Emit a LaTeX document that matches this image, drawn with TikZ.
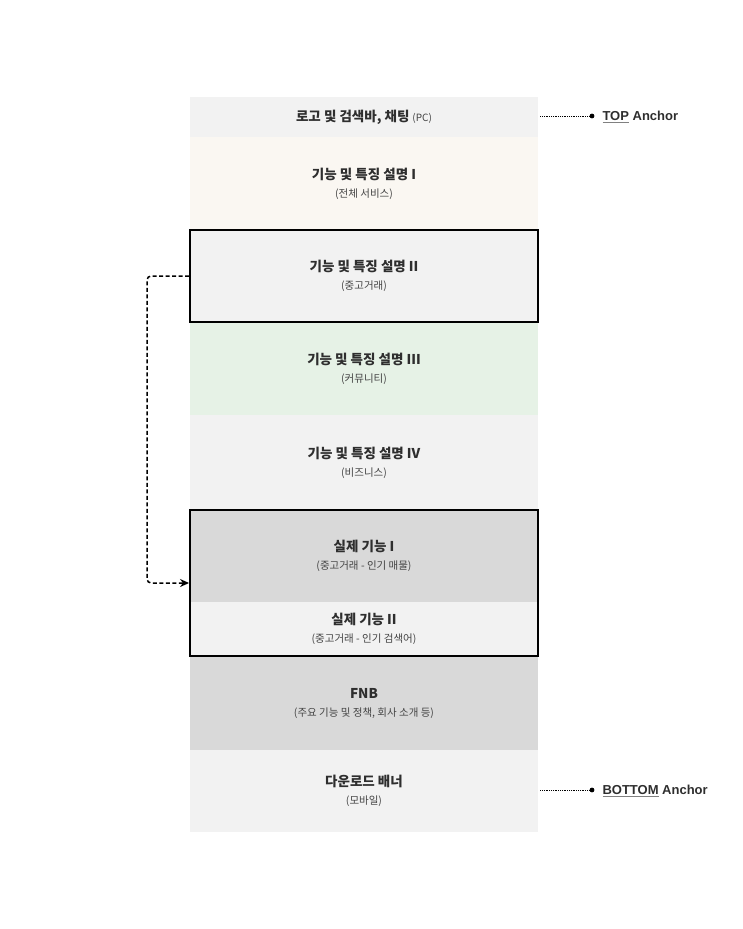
\documentclass[tikz,border=0pt]{standalone}
\usepackage{fontspec}
\setmainfont{Noto Sans CJK KR}
\newfontfamily\anchorfont{Liberation Sans}
\usetikzlibrary{arrows.meta,fit}
\definecolor{rowgray}{HTML}{F2F2F2}
\definecolor{rowcream}{HTML}{FAF7F2}
\definecolor{rowgreen}{HTML}{E6F2E6}
\definecolor{rowdark}{HTML}{D9D9D9}
\definecolor{txtdark}{HTML}{2E2E2E}
\definecolor{txtsub}{HTML}{444444}
\newcommand{\rowtxt}[2]{{\bfseries #1}\\{\fontsize{10.5}{12}\selectfont\color{txtsub}#2}}

\begin{document}
\begin{tikzpicture}[x=1pt,y=-1pt,
    row/.style={fill=#1, minimum width=348pt, inner sep=0pt, align=center, text=txtdark, font=\fontsize{13.5}{18}\selectfont},
    frame/.style={draw=black, line width=1.5pt, inner sep=0pt},
    anchorlbl/.style={anchor=west, font=\anchorfont\bfseries\fontsize{13}{15}\selectfont, text=txtdark}]
    \useasboundingbox (0,0) rectangle (743,929);

    % page sections, top to bottom
    \node[row=rowgray, minimum height=40pt] (logo) at (364,117) {\textbf{로고 및 검색바, 채팅} {\fontsize{10}{11}\selectfont\color{txtsub}(PC)}};
    \node[row=rowcream, minimum height=93pt] (info1) at (364,183.5) {\rowtxt{기능 및 특징 설명 I}{(전체 서비스)}};
    \node[row=rowgray, minimum height=92pt] (info2) at (364,276) {\rowtxt{기능 및 특징 설명 II}{(중고거래)}};
    \node[row=rowgreen, minimum height=93pt] (info3) at (364,368.5) {\rowtxt{기능 및 특징 설명 III}{(커뮤니티)}};
    \node[row=rowgray, minimum height=95pt] (info4) at (364,462.5) {\rowtxt{기능 및 특징 설명 IV}{(비즈니스)}};
    \node[row=rowdark, minimum height=92pt] (feat1) at (364,556) {\rowtxt{실제 기능 I}{(중고거래 - 인기 매물)}};
    \node[row=rowgray, minimum height=54pt] (feat2) at (364,629) {\rowtxt{실제 기능 II}{(중고거래 - 인기 검색어)}};
    \node[row=rowdark, minimum height=94pt] (fnb) at (364,703) {\rowtxt{FNB}{(주요 기능 및 정책, 회사 소개 등)}};
    \node[row=rowgray, minimum height=82pt] (banner) at (364,791) {\rowtxt{다운로드 배너}{(모바일)}};

    % highlighted frames
    \node[frame, fit=(info2)] (info2box) {};
    \node[frame, fit=(feat1)(feat2)] (featbox) {};

    % jump from the trade section to the real features
    \draw[line width=1.5pt, dash pattern=on 4pt off 2.5pt, -{Stealth[length=9pt,width=8pt]}, rounded corners=4pt] (info2box.west) -- ++(-42,0) |- (featbox.west);

    % scroll anchors
    \coordinate (topdot) at (592,116);
    \coordinate (botdot) at (592,790);
    \draw[densely dotted, line width=0.8pt] (logo.east |- topdot) ++(2,0) -- (topdot);
    \fill (topdot) circle (2.4pt);
    \node[anchorlbl] (toplbl) at (599,117) {\textcolor{gray}{\underline{\textcolor{txtdark}{TOP}}} Anchor};
    \draw[densely dotted, line width=0.8pt] (banner.east |- botdot) ++(2,0) -- (botdot);
    \fill (botdot) circle (2.4pt);
    \node[anchorlbl] (botlbl) at (599,791) {\textcolor{gray}{\underline{\textcolor{txtdark}{BOTTOM}}} Anchor};
\end{tikzpicture}
\end{document}
